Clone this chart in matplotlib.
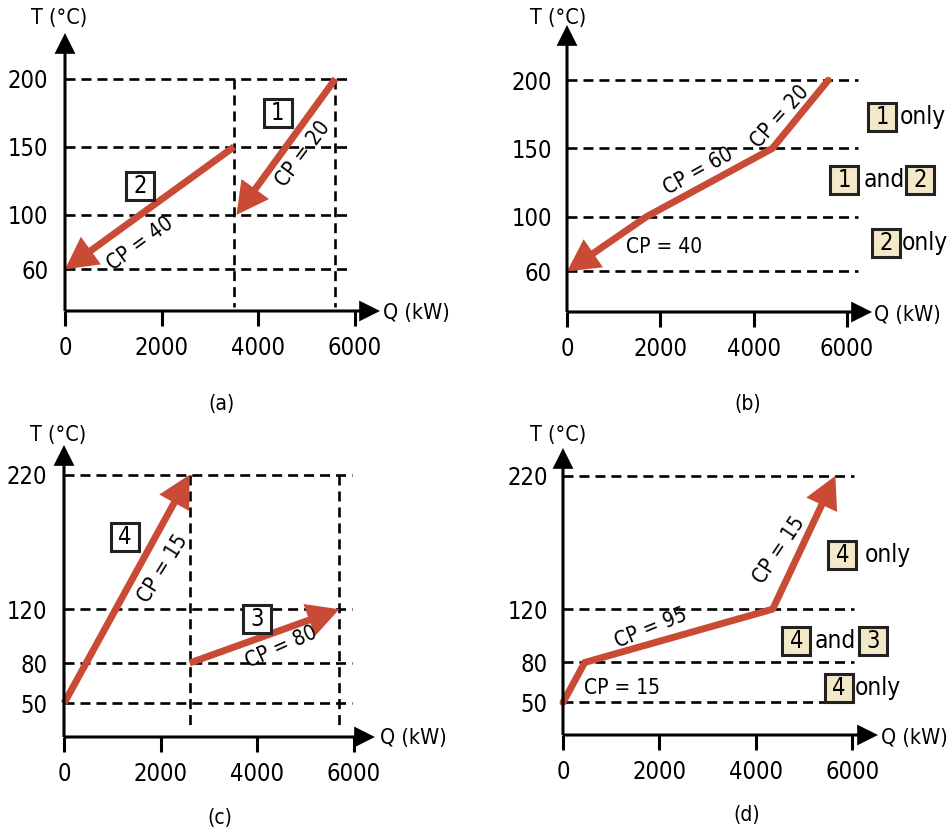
import matplotlib
matplotlib.use("Agg")
import matplotlib.pyplot as plt

plt.rcParams['font.family'] = ['DejaVu Sans']
plt.rcParams['font.stretch'] = 'condensed'
plt.rcParams['lines.scale_dashes'] = False

RED = '#c94b36'
BEIGE = '#f3e8c8'

# ---------------- data ----------------
Q_ticks = [0, 2000, 4000, 6000]

# (a) hot streams separately
a_T_ticks = [60, 100, 150, 200]
a_s1_Q = [5600, 3550]
a_s1_T = [200, 100]
a_s2_Q = [3500, 0]
a_s2_T = [150, 60]
a_vlines = [3500, 5600]

# (b) hot composite curve
b_T_ticks = [60, 100, 150, 200]
b_comp_Q = [5600, 4400, 1700, 0]
b_comp_T = [200, 150, 100, 60]

# (c) cold streams separately
c_T_ticks = [50, 80, 120, 220]
c_s4_Q = [0, 2600]
c_s4_T = [50, 220]
c_s3_Q = [2600, 5700]
c_s3_T = [80, 120]
c_vlines = [2600, 5700]

# (d) cold composite curve
d_T_ticks = [50, 80, 120, 220]
d_comp_Q = [0, 450, 4350, 5650]
d_comp_T = [50, 80, 120, 220]

W, H = 948, 833
fig = plt.figure(figsize=(W / 100, H / 100), dpi=100)
fig.patch.set_facecolor('white')


def make_ax(left, top, right, bottom, xlim, ylim, yticks, ypad):
    ax = fig.add_axes([left / W, (H - bottom) / H, (right - left) / W, (bottom - top) / H])
    ax.set_xlim(*xlim)
    ax.set_ylim(*ylim)
    for s in ax.spines.values():
        s.set_visible(False)
    ax.set_xticks(Q_ticks)
    ax.set_xticklabels([str(v) for v in Q_ticks])
    ax.set_yticks(yticks)
    ax.set_yticklabels([str(v) for v in yticks])
    ax.tick_params(axis='x', length=11, width=2.2, pad=7, labelsize=17, direction='out', color='black')
    ax.tick_params(axis='y', length=0, pad=ypad, labelsize=17)
    ax.patch.set_alpha(0)
    axis_style = 'simple,head_length=1.5,head_width=1.5,tail_width=0.22'
    ax.annotate('', xy=(1, 0), xytext=(0, 0), xycoords='axes fraction',
                arrowprops=dict(arrowstyle=axis_style, mutation_scale=10, fc='black', ec='none',
                                lw=0, shrinkA=0, shrinkB=0), zorder=6)
    ax.annotate('', xy=(0, 1), xytext=(0, 0), xycoords='axes fraction',
                arrowprops=dict(arrowstyle=axis_style, mutation_scale=10, fc='black', ec='none',
                                lw=0, shrinkA=0, shrinkB=0), zorder=6)
    return ax


def hdash(ax, yvals, xend):
    for y in yvals:
        ax.plot([0, xend], [y, y], color='black', lw=1.9, dashes=(7.2, 4.3), zorder=1, clip_on=False)


def vdash(ax, xvals, ytop, ybot):
    for x in xvals:
        ax.plot([x, x], [ytop, ybot], color='black', lw=1.9, dashes=(7.2, 4.3), zorder=1, clip_on=False)


ARROW = 'simple,head_length=2.3,head_width=2.45,tail_width=0.5'


def stream(ax, Q, T):
    if len(Q) > 2:
        ax.plot(Q[:-1], T[:-1], color=RED, lw=5.0, solid_capstyle='round',
                solid_joinstyle='miter', zorder=3, clip_on=False)
    ax.annotate('', xy=(Q[-1], T[-1]), xytext=(Q[-2], T[-2]),
                arrowprops=dict(arrowstyle=ARROW, mutation_scale=10, fc=RED, ec='none',
                                lw=0, shrinkA=0, shrinkB=0), zorder=4)


def box(ax, x, y, s, fill):
    ax.plot([x], [y], marker='s', ms=19.5, mfc=fill, mec='#222222', mew=2.2, zorder=5, clip_on=False)
    ax.text(x, y, s, ha='center', va='center', fontsize=17, zorder=6)


def cp(ax, x, y, s, rot=0):
    ax.text(x, y, s, ha='center', va='center', fontsize=15, rotation=rot,
            rotation_mode='anchor', zorder=5)


def word(ax, x, y, s):
    ax.text(x, y, s, ha='center', va='center', fontsize=17.5)


def labels(ax, tx, ty, qx, qy, px, py, panel):
    ax.text(tx, ty, 'T (°C)', transform=ax.transAxes, ha='center', va='center', fontsize=15.5)
    ax.text(qx, qy, 'Q (kW)', transform=ax.transAxes, ha='center', va='center', fontsize=15.5)
    ax.text(px, py, panel, transform=ax.transAxes, ha='center', va='center', fontsize=15)


# ---------------- (a) ----------------
ax = make_ax(65, 33, 380, 311, (0, 6522), (29.4, 233.6), a_T_ticks, 12)
hdash(ax, a_T_ticks, 5950)
vdash(ax, a_vlines, 200, 32)
stream(ax, a_s1_Q, a_s1_T)
stream(ax, a_s2_Q, a_s2_T)
box(ax, 4400, 175, '1', 'white')
box(ax, 1550, 121, '2', 'white')
cp(ax, 1550, 79, 'CP = 40', 36)
cp(ax, 4930, 145, 'CP = 20', 53)
labels(ax, -0.02, 1.054, 1.115, -0.007, 0.498, -0.335, '(a)')

# ---------------- (b) ----------------
ax = make_ax(567, 25, 872, 312, (0, 6538), (30.3, 240.4), b_T_ticks, 11)
hdash(ax, b_T_ticks, 6240)
stream(ax, b_comp_Q, b_comp_T)
cp(ax, 2079, 78, 'CP = 40', 0)
cp(ax, 2806, 133, 'CP = 60', 29)
cp(ax, 4573, 173, 'CP = 20', 48)
box(ax, 6752, 173, '1', BEIGE)
word(ax, 7628, 173, 'only')
box(ax, 5940, 127, '1', BEIGE)
word(ax, 6795, 127, 'and')
box(ax, 7564, 127, '2', BEIGE)
box(ax, 6838, 81, '2', BEIGE)
word(ax, 7671, 81, 'only')
labels(ax, -0.03, 1.024, 1.115, -0.01, 0.593, -0.32, '(b)')

# ---------------- (c) ----------------
ax = make_ax(64, 445, 375, 737, (0, 6439), (25, 242.1), c_T_ticks, 12)
hdash(ax, c_T_ticks, 5960)
vdash(ax, c_vlines, 220, 30)
stream(ax, c_s4_Q, c_s4_T)
stream(ax, c_s3_Q, c_s3_T)
box(ax, 1263, 174, '4', 'white')
box(ax, 3989, 113, '3', 'white')
cp(ax, 2056, 150, 'CP = 15', 58)
cp(ax, 4507, 92, 'CP = 80', 24)
labels(ax, -0.02, 1.034, 1.125, -0.003, 0.502, -0.277, '(c)')

# ---------------- (d) ----------------
ax = make_ax(563, 448, 878, 735, (0, 6535), (25.6, 240.9), d_T_ticks, 11)
hdash(ax, d_T_ticks, 6040)
stream(ax, d_comp_Q, d_comp_T)
cp(ax, 1819, 106, 'CP = 95', 22)
cp(ax, 1217, 61, 'CP = 15', 0)
cp(ax, 4481, 164, 'CP = 15', 56)
box(ax, 5795, 161, '4', BEIGE)
word(ax, 6729, 161, 'only')
box(ax, 4841, 96, '4', BEIGE)
word(ax, 5657, 96, 'and')
box(ax, 6438, 96, '3', BEIGE)
box(ax, 5726, 61, '4', BEIGE)
word(ax, 6535, 61, 'only')
labels(ax, -0.016, 1.045, 1.115, -0.01, 0.584, -0.279, '(d)')

fig.savefig('out.png', dpi=100, facecolor='white')
